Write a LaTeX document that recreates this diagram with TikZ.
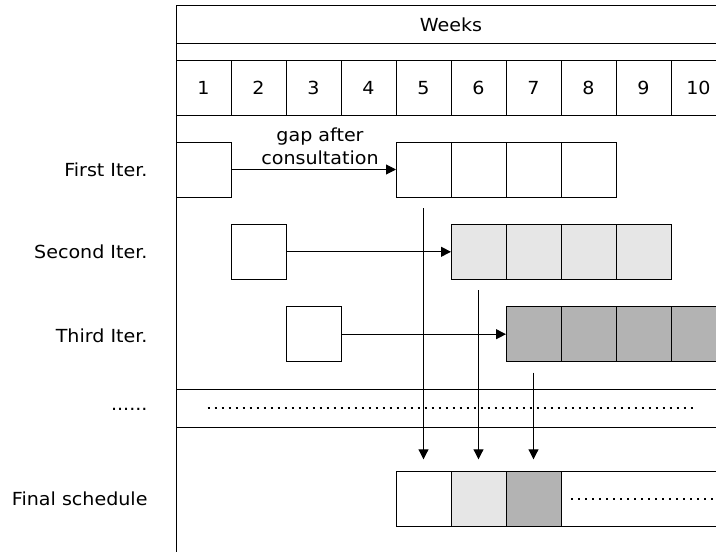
\documentclass[tikz,border=0pt]{standalone}
\usepackage{fontspec}
\setmainfont[FakeStretch=1.06]{DejaVu Sans}
\usetikzlibrary{arrows.meta}
\definecolor{lightfill}{HTML}{E6E6E6}
\definecolor{darkfill}{HTML}{B3B3B3}
\begin{document}
\begin{tikzpicture}[x=1pt, y=-1pt, line width=1pt,
  font=\fontsize{18}{23}\selectfont,
  cell/.style={draw, minimum width=55pt, minimum height=55pt, inner sep=0pt, outer sep=0pt},
  week/.style={cell, minimum height=54.5pt},
  pale/.style={cell, fill=lightfill},
  shade/.style={cell, fill=darkfill},
  rowlabel/.style={anchor=base east, inner sep=0pt},
  link/.style={draw, -{Triangle[length=10pt,width=10pt]}},
  dots/.style={line width=2pt, dash pattern=on 2pt off 5pt}
]
\useasboundingbox (0,0) rectangle (716,552);
\clip (0,0) rectangle (716,552);

% header band
\draw (176,5.5) -- (740,5.5);
\draw (176,43.5) -- (740,43.5);
\node (weeks) at (451,25) {Weeks};
\foreach \i in {1,...,10}
  \node[week] (w\i) at ({148.5+55*\i},87.75) {\i};

% left frame line
\draw (176,5.5) -- (176,552);

% row labels
\node[rowlabel] (lfirst)  at (148,176.7) {First Iter.};
\node[rowlabel] (lsecond) at (148,258.7) {Second Iter.};
\node[rowlabel] (lthird)  at (148,342)   {Third Iter.};
\node[rowlabel] (lmore)   at (148,410.7) {......};
\node[rowlabel] (lfinal)  at (148,505.7) {Final schedule};

% first iteration
\node[cell] (f0) at (203.5,169.5) {};
\foreach \i in {1,...,4}
  \node[cell] (f\i) at ({368.5+55*\i},169.5) {};
\draw[link] (f0.east) -- (f1.west);
\node[align=center, inner sep=0pt] (gap) at (320,146.5) {gap after\\consultation};

% second iteration
\node[cell] (s0) at (258.5,251.8) {};
\foreach \i in {1,...,4}
  \node[pale] (s\i) at ({423.5+55*\i},251.8) {};
\draw[link] (s0.east) -- (s1.west);

% third iteration
\node[cell] (t0) at (313.5,334.2) {};
\foreach \i in {1,...,4}
  \node[shade] (t\i) at ({478.5+55*\i},334.2) {};
\draw[link] (t0.east) -- (t1.west);

% further iterations
\draw (176,389) -- (740,389);
\draw (176,427.3) -- (740,427.3);
\draw[dots] (207.7,408) -- (693.5,408);

% final schedule
\node[cell] (q1) at (423.5,498.5) {};
\node[pale] (q2) at (478.5,498.5) {};
\node[shade] (q3) at (533.5,498.5) {};
\node[cell, minimum width=180pt, anchor=west] (qrest) at (q3.east) {};
\coordinate (qdots) at (571,498.7);
\coordinate (qend) at (716,498.7);
\draw[dots] (qdots) -- (qend);

% first block of each iteration goes into the final schedule
\draw[link] ([yshift=-11pt]f1.south) -- ([yshift=11.7pt]q1.north);
\draw[link] ([yshift=-11pt]s1.south) -- ([yshift=11.7pt]q2.north);
\draw[link] ([yshift=-11pt]t1.south) -- ([yshift=11.7pt]q3.north);
\end{tikzpicture}
\end{document}
